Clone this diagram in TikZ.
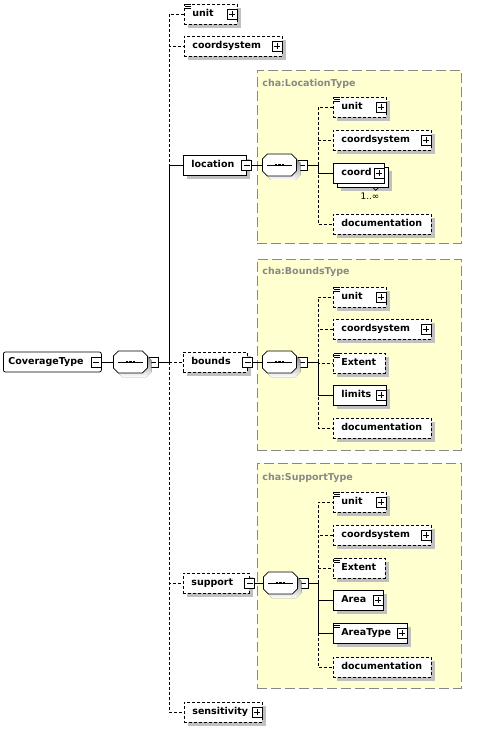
\documentclass[tikz,border=0pt]{standalone}
\usepackage{fontspec}
\usepackage{tikz}
\usetikzlibrary{positioning}
\usetikzlibrary{shadows}
\newfontfamily\xsdfont{DejaVu Sans}
\definecolor{grpfill}{RGB}{255,255,208}
\definecolor{grpline}{RGB}{136,136,136}
\definecolor{shade}{RGB}{192,192,192}
\tikzset{box/.style = {draw, fill=white, rectangle, anchor=west, inner xsep=8pt, inner ysep=0pt,
                       minimum height=20pt, text height=7.2pt, text depth=2pt,
                       font=\xsdfont\bfseries\fontsize{9.5}{11}\selectfont},
         shd/.style = {drop shadow={shadow xshift=4pt, shadow yshift=-4pt, fill=shade, opacity=1}},
         elem/.style = {box, shd},
         optelem/.style = {elem, dash pattern=on 3pt off 2pt},
         optline/.style = {dash pattern=on 3pt off 2pt},
         bw/.style = {execute at begin node={\hbox to #1\bgroup}, execute at end node={\hfil\egroup}},
         pbox/.style = {draw, fill=white, rectangle, minimum size=10pt, inner sep=0pt,
                        path picture={\draw ([xshift=2pt]path picture bounding box.west) -- ([xshift=-2pt]path picture bounding box.east);
                                      \draw ([yshift=-2pt]path picture bounding box.north) -- ([yshift=2pt]path picture bounding box.south);}},
         mbox/.style = {draw, fill=white, rectangle, minimum size=10pt, inner sep=0pt,
                        path picture={\draw ([xshift=2pt]path picture bounding box.west) -- ([xshift=-2pt]path picture bounding box.east);}},
         seq/.style = {rectangle, anchor=west, minimum width=34pt, minimum height=22pt, inner sep=0pt},
         grp/.style = {draw=grpline, fill=grpfill, dash pattern=on 10pt off 4pt, anchor=north west, inner sep=0pt},
         grplabel/.style = {anchor=west, inner sep=0pt, text=grpline, font=\xsdfont\bfseries\fontsize{9.5}{11}\selectfont},
         mult/.style = {inner sep=0pt, font=\xsdfont\fontsize{9}{10}\selectfont}}

\begin{document}
\begin{tikzpicture}[x=1pt, y=-1pt, line width=0.75pt]
  \fill[white] (0,0) rectangle (477,730);
  \useasboundingbox (0,0) rectangle (477,730);

  % type groups
  \node[grp, minimum width=204pt, minimum height=173pt] (lgrp) at (257,70) {};
  \node[grplabel] (lgrpl) at (262,84) {cha:LocationType};
  \node[grp, minimum width=204pt, minimum height=191pt] (bgrp) at (257,259) {};
  \node[grplabel] (bgrpl) at (262,272) {cha:BoundsType};
  \node[grp, minimum width=204pt, minimum height=225pt] (sgrp) at (257,463) {};
  \node[grplabel] (sgrpl) at (262,478) {cha:SupportType};

  % root
  \node[box, rounded corners=2pt, inner xsep=5pt, bw=88pt] (ct) at (3,362) {CoverageType};
  \node[mbox, anchor=east] (ct-m) at (ct.east) {};
  \node[seq] (seq) at (113,362) {};
  \node[mbox, anchor=west] (seq-m) at (seq.east) {};
  \coordinate (tr) at (169,362);

  \node[optelem, bw=37pt] (unit) at (184,14) {unit};
  \node[optelem, bw=82pt] (cs) at (184,46) {coordsystem};
  \node[elem, bw=47pt] (loc) at (183,165) {location};
  \node[optelem, bw=48pt] (bnd) at (183,362) {bounds};
  \node[optelem, bw=50pt] (sup) at (183,583) {support};
  \node[optelem, bw=62pt] (sens) at (184,712) {sensitivity};

  % location
  \node[seq] (lseq) at (262,165) {};
  \node[mbox, anchor=west] (lseq-m) at (lseq.east) {};
  \coordinate (ltr) at (318,165);
  \node[optelem, bw=37pt] (lunit) at (333,107) {unit};
  \node[optelem, bw=82pt] (lcs) at (333,140) {coordsystem};
  \node[elem, bw=35pt] (lcoordb) at (337,177) {};
  \node[box, bw=35pt] (lcoord) at (333,173) {coord};
  \node[optelem, bw=82pt] (ldoc) at (333,224) {documentation};
  \node[mult] (lmult) at (370,196) {1..∞};

  % bounds
  \node[seq] (bseq) at (262,362) {};
  \node[mbox, anchor=west] (bseq-m) at (bseq.east) {};
  \coordinate (btr) at (318,362);
  \node[optelem, bw=37pt] (bunit) at (333,297) {unit};
  \node[optelem, bw=82pt] (bcs) at (333,329) {coordsystem};
  \node[optelem, bw=36pt] (bext) at (333,363) {Extent};
  \node[elem, bw=37pt] (blim) at (333,395) {limits};
  \node[optelem, bw=82pt] (bdoc) at (333,428) {documentation};

  % support
  \node[seq] (sseq) at (263,583) {};
  \node[mbox, anchor=west] (sseq-m) at (sseq.east) {};
  \coordinate (str) at (318,583);
  \node[optelem, bw=37pt] (sunit) at (333,502) {unit};
  \node[optelem, bw=82pt] (scs) at (333,535) {coordsystem};
  \node[optelem, bw=36pt] (sext) at (333,568) {Extent};
  \node[elem, bw=34pt] (sarea) at (333,600) {Area};
  \node[elem, bw=58pt] (satype) at (333,633) {AreaType};
  \node[optelem, bw=82pt] (sdoc) at (333,667) {documentation};

  % sequence octagons
  \foreach \n in {seq,lseq,bseq,sseq} {
    \fill[shade] ([xshift=-8pt, yshift=7pt]\n.center) -- ++(24pt,0pt) -- ++(5pt,-5pt) -- ++(0pt,-12pt)
      -- ++(-5pt,-5pt) -- ++(-24pt,0pt) -- ++(-5pt,5pt) -- ++(0pt,12pt) -- cycle;
    \draw[fill=white] ([xshift=-12pt, yshift=11pt]\n.center) -- ++(24pt,0pt) -- ++(5pt,-5pt) -- ++(0pt,-12pt)
      -- ++(-5pt,-5pt) -- ++(-24pt,0pt) -- ++(-5pt,5pt) -- ++(0pt,12pt) -- cycle;
    \draw ([xshift=5pt]\n.west) -- ([xshift=-5pt]\n.east);
    \foreach \d in {-4.8,-1.3,2.2}
      \fill ([xshift=\d pt, yshift=-1.3pt]\n.center) rectangle ++(2.6pt,2.6pt);
  }

  % expand boxes and note marks
  \foreach \n in {unit,cs,sens,lunit,lcs,lcoord,bunit,bcs,blim,sunit,scs,sarea,satype}
    \node[pbox, anchor=east] (\n-p) at (\n.east) {};
  \foreach \n in {loc,bnd,sup}
    \node[mbox] (\n-m) at (\n.east) {};
  \foreach \n in {unit,lunit,bunit,bext,sunit,sext,satype}
    \foreach \k in {0.5,2.5,4.5}
      \draw[line width=0.6pt] ([shift={(1pt,-\k pt)}]\n.north west) -- ++(6pt,0pt);
  \draw ([xshift=-16pt]lcoordb.south east) -- ++(3pt,-3pt) -- ++(3pt,3pt);

  % connectors
  \draw (ct-m.east) -- (seq.west);
  \draw (seq-m.east) -- (tr);
  \foreach \n in {unit,cs,bnd,sup,sens}
    \draw[optline] (tr) |- (\n.west);
  \draw (tr) |- (loc.west);

  \draw (loc-m.east) -- (lseq.west);
  \draw (lseq-m.east) -- (ltr);
  \foreach \n in {lunit,lcs,ldoc}
    \draw[optline] (ltr) |- (\n.west);
  \draw (ltr) |- (lcoord.west);

  \draw (bnd-m.east) -- (bseq.west);
  \draw (bseq-m.east) -- (btr);
  \foreach \n in {bunit,bcs,bext,bdoc}
    \draw[optline] (btr) |- (\n.west);
  \draw (btr) |- (blim.west);

  \draw (sup-m.east) -- (sseq.west);
  \draw (sseq-m.east) -- (str);
  \foreach \n in {sunit,scs,sext,sdoc}
    \draw[optline] (str) |- (\n.west);
  \draw (str) |- (sarea.west);
  \draw (str) |- (satype.west);
\end{tikzpicture}
\end{document}
